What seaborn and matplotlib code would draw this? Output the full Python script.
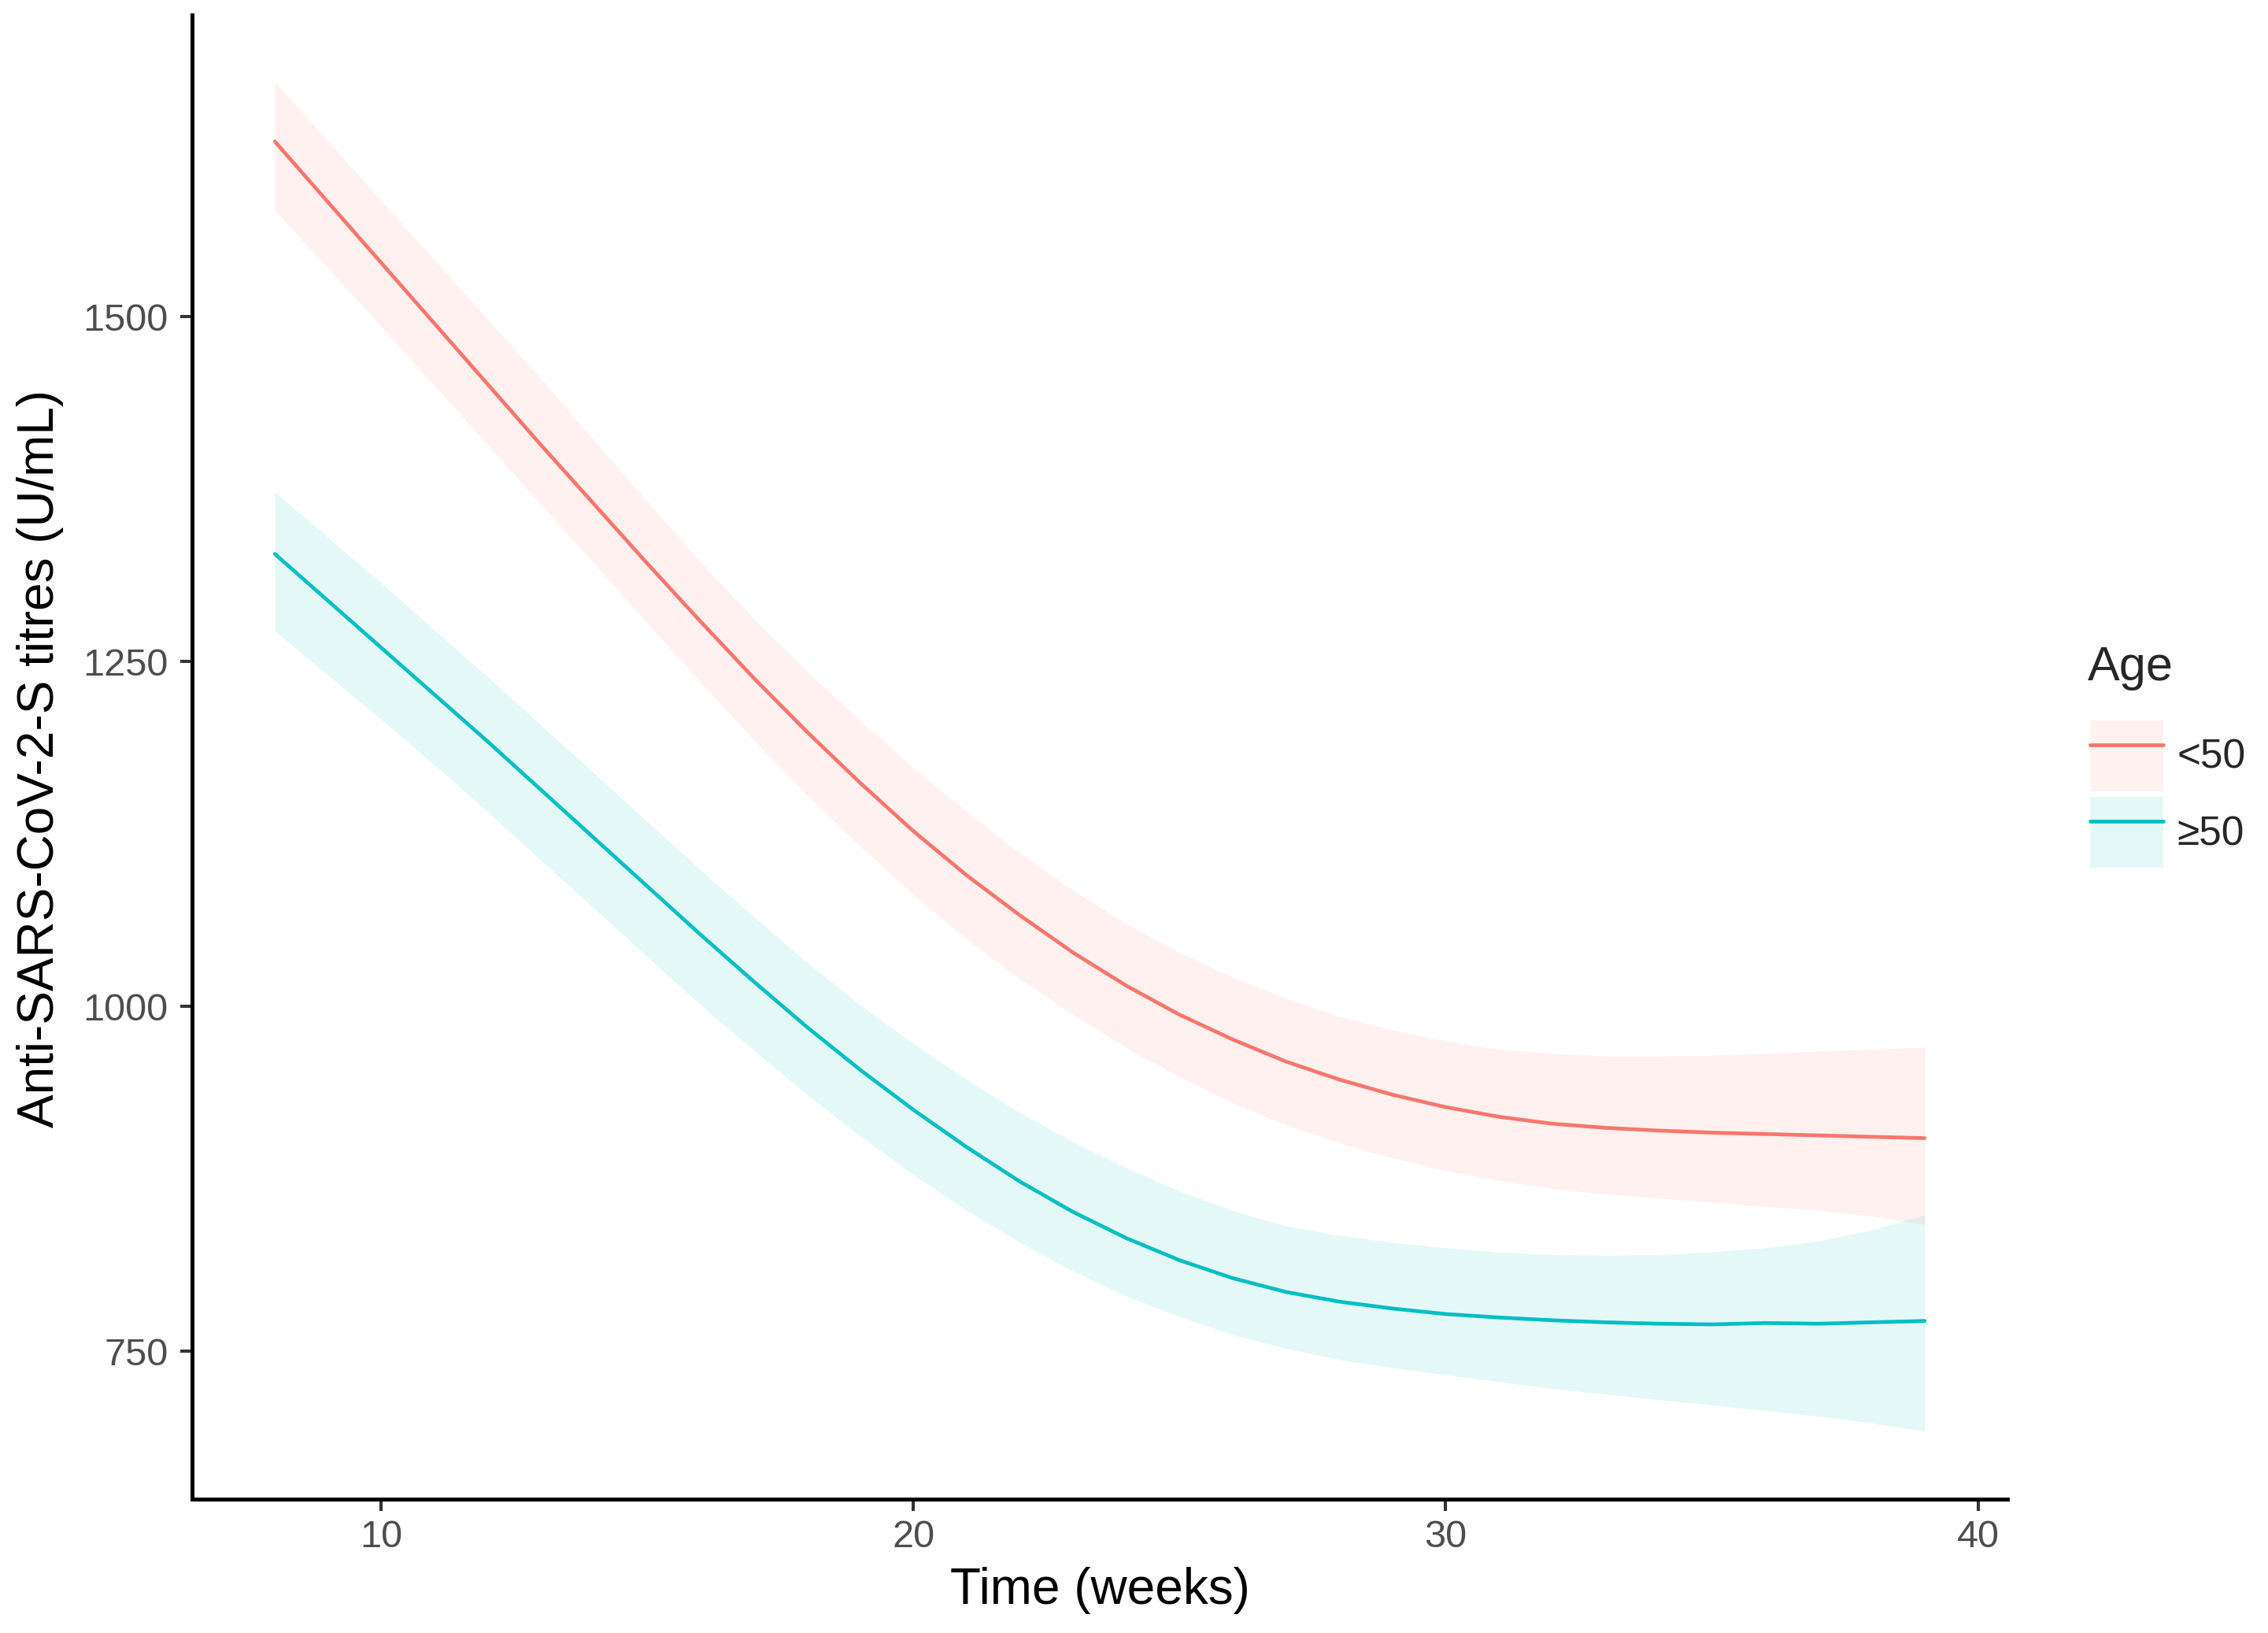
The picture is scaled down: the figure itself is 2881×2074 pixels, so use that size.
import numpy as np
import pandas as pd
import seaborn as sns
import matplotlib.pyplot as plt
from matplotlib.patches import Patch
from matplotlib.lines import Line2D
from matplotlib.legend_handler import HandlerTuple

# weeks since vaccination
weeks = list(range(8, 40))

# <50 group: fitted titre and confidence band
young_fit = [1627, 1583, 1539, 1495, 1451, 1407, 1364, 1321, 1279, 1238, 1199, 1162, 1127, 1095, 1066, 1039,
             1015, 994, 976, 960, 947, 936, 927, 920, 915, 912, 910, 908.5, 907.5, 906.5, 905.5, 904.5]
young_hi = [1670, 1627, 1584, 1541, 1498, 1455, 1410, 1366, 1322, 1281, 1243, 1207, 1173, 1141, 1111, 1084,
            1060, 1039, 1021, 1006, 993, 983, 975, 969, 966, 964, 964, 964.5, 966, 967.5, 969, 970.5]
young_lo = [1577, 1535, 1493, 1450, 1407, 1364, 1321, 1278, 1235, 1193, 1153, 1116, 1081, 1049, 1020, 994,
            970, 949, 930, 914, 901, 890, 881, 874, 868, 864, 861, 858, 855, 852, 848, 842]

# >=50 group
old_fit = [1328, 1294, 1260, 1226, 1192, 1157, 1122, 1087, 1052, 1018, 985, 954, 925, 898, 873, 851,
           832, 816, 803, 793, 786, 781, 777, 774.5, 772.5, 771, 770, 769.5, 770.5, 770, 771, 772]
old_hi = [1373, 1340, 1307, 1273, 1239, 1204, 1169, 1134, 1099, 1065, 1032, 1001, 973, 947, 923, 902,
          883, 866, 852, 841, 834, 829, 825, 822, 820, 819.5, 820, 822, 825, 830, 838, 849]
old_lo = [1272, 1240, 1208, 1175, 1141, 1106, 1071, 1036, 1001, 968, 936, 906, 878, 852, 829, 808,
          790, 775, 762, 752, 744, 738, 733, 728, 723, 719, 715, 711, 707, 703, 698, 692]

groups = ['<50', '≥50']
colors = {'<50': '#F8766D', '≥50': '#00BFC4'}

df = pd.DataFrame({
    'week': weeks * 2,
    'titre': young_fit + old_fit,
    'lo': young_lo + old_lo,
    'hi': young_hi + old_hi,
    'Age': [groups[0]] * len(weeks) + [groups[1]] * len(weeks),
})

sns.set_style('white')
plt.rcParams['font.family'] = ['Liberation Sans', 'DejaVu Sans']

fig = plt.figure(figsize=(28.81, 20.74), dpi=100)
ax = fig.add_axes([0.0848, 0.0822, 0.8002, 0.9088])

for g in groups:
    d = df[df['Age'] == g]
    ax.fill_between(d['week'], d['lo'], d['hi'], color=colors[g], alpha=0.1, linewidth=0)

sns.lineplot(data=df, x='week', y='titre', hue='Age', palette=colors, linewidth=3.4,
             legend=False, ax=ax, estimator=None)

# ggplot-like 5% expansion
xr = max(weeks) - min(weeks)
ax.set_xlim(min(weeks) - 0.05 * xr, max(weeks) + 0.05 * xr)
ymin, ymax = min(old_lo), max(young_hi)
yr = ymax - ymin
ax.set_ylim(ymin - 0.05 * yr, ymax + 0.05 * yr)

ax.set_xticks([10, 20, 30, 40])
ax.set_yticks([750, 1000, 1250, 1500])
ax.tick_params(axis='both', bottom=True, left=True, length=11, width=2.9, color='#333333',
               labelsize=35, labelcolor='#4D4D4D')
ax.tick_params(axis='y', pad=11)
ax.tick_params(axis='x', pad=8)

for s in ['top', 'right']:
    ax.spines[s].set_visible(False)
for s in ['left', 'bottom']:
    ax.spines[s].set_color('black')
    ax.spines[s].set_linewidth(3.6)

ax.set_xlabel('Time (weeks)', fontsize=46, color='black')
ax.set_ylabel('Anti-SARS-CoV-2-S titres (U/mL)', fontsize=46, color='black')
ax.xaxis.set_label_coords(0.5, -0.062)
ax.xaxis.label.set_va('center')
ax.yaxis.set_label_coords(-0.0837, 0.499)
ax.yaxis.label.set_va('center')

# legend: title drawn separately so the gap above the keys matches
fig.text(0.9203, 0.5908, 'Age', fontsize=44, ha='left', va='center')
handles = [(Patch(facecolor=colors[g], alpha=0.1, linewidth=0),
            Line2D([], [], color=colors[g], linewidth=3.4)) for g in groups]
leg = fig.legend(handles, groups, loc='center left', bbox_to_anchor=(0.9216, 0.5137),
                 frameon=False, fontsize=37, handlelength=1.8, handleheight=2.3,
                 handletextpad=0.35, labelspacing=0.15, borderpad=0, borderaxespad=0,
                 handler_map={tuple: HandlerTuple(ndivide=1)})

fig.savefig('out.png', dpi=100, facecolor='white')
